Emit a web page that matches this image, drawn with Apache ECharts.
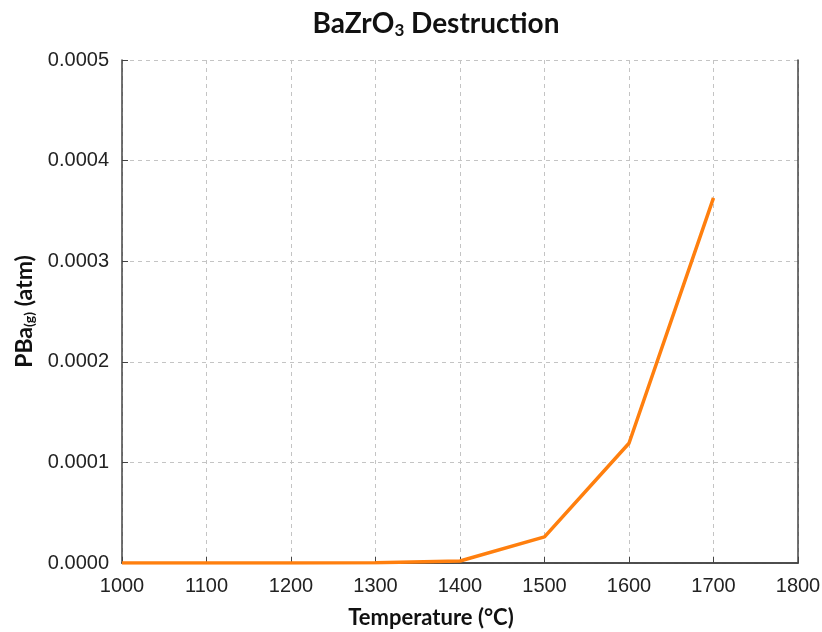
<!DOCTYPE html>
<html>
<head>
<meta charset="utf-8">
<script src="https://cdn.jsdelivr.net/npm/echarts@6/dist/echarts.min.js"></script>
<style>
  html, body { margin: 0; padding: 0; background: #fff; }
  #main { width: 822px; height: 632px; }
</style>
</head>
<body>
<div id="main"></div>
<script>
// 温度 (°C) 和 PBa(g) (atm)
var temps = [1000, 1100, 1200, 1300, 1400, 1500, 1600, 1700];
var pressure = [0, 0, 0, 0.0000002, 0.000002, 0.000026, 0.000119, 0.000363];
var xTicks = [1000, 1100, 1200, 1300, 1400, 1500, 1600, 1700, 1800];
var yTicks = ["0.0000", "0.0001", "0.0002", "0.0003", "0.0004", "0.0005"];

var chart = echarts.init(document.getElementById("main"));

var points = temps.map(function (t, i) { return [t, pressure[i]]; });

var boldFont = "Lato, 'Open Sans', sans-serif";
var tickFont = "'Liberation Sans', Arial, sans-serif";
var frame = { show: true, lineStyle: { color: "#444", width: 1.5 } };
var dashed = { show: true, lineStyle: { color: "#c4c4c4", type: [4, 4], width: 1 } };

var option = {
  animation: false,
  title: {
    text: "{m|BaZrO}{s|3}{m| Destruction}",
    left: 431,
    textAlign: "center",
    top: 3,
    textStyle: {
      rich: {
        m: { fontFamily: boldFont, fontWeight: "bold", fontSize: 28, color: "#111" },
        s: { fontFamily: boldFont, fontWeight: "bold", fontSize: 17, color: "#111", padding: [14, 0, 0, 0] }
      }
    }
  },
  grid: {
    left: 122,
    right: 24,
    top: 60,
    bottom: 69,
    outerBoundsMode: "none",
    containLabel: false
  },
  xAxis: [
    {
      type: "value",
      min: 1000,
      max: 1800,
      interval: 100,
      name: "Temperature (°C)",
      nameLocation: "middle",
      nameGap: 44,
      nameTextStyle: {
        fontFamily: boldFont, fontWeight: "bold", fontSize: 22, color: "#111",
        padding: [0, 58, 0, 0]
      },
      axisLine: frame,
      axisTick: { show: true, inside: true, length: 6, lineStyle: { color: "#444" } },
      axisLabel: {
        margin: 13,
        fontFamily: tickFont,
        fontSize: 20,
        color: "#222",
        formatter: function (v) { return xTicks.indexOf(v) >= 0 ? String(v) : ""; }
      },
      splitLine: dashed
    },
    {
      type: "value",
      position: "top",
      min: 1000,
      max: 1800,
      axisLine: frame,
      axisTick: { show: false },
      axisLabel: { show: false },
      splitLine: { show: false }
    }
  ],
  yAxis: [
    {
      type: "value",
      min: 0,
      max: 0.0005,
      interval: 0.0001,
      name: "{m|PBa}{s|(g)}{m| (atm)}",
      nameLocation: "middle",
      nameGap: 82,
      nameTextStyle: {
        rich: {
          m: { fontFamily: boldFont, fontWeight: "bold", fontSize: 23, color: "#111" },
          s: { fontFamily: boldFont, fontWeight: "bold", fontSize: 14, color: "#111", padding: [10, 0, 0, 0] }
        }
      },
      axisLine: frame,
      axisTick: { show: true, inside: true, length: 6, lineStyle: { color: "#444" } },
      axisLabel: {
        margin: 13,
        fontFamily: tickFont,
        fontSize: 20,
        color: "#222",
        formatter: function (v) { return yTicks[Math.round(v / 0.0001)]; }
      },
      splitLine: dashed
    },
    {
      type: "value",
      position: "right",
      min: 0,
      max: 0.0005,
      axisLine: frame,
      axisTick: { show: false },
      axisLabel: { show: false },
      splitLine: { show: false }
    }
  ],
  series: [
    {
      name: "PBa(g)",
      type: "line",
      data: points,
      showSymbol: false,
      lineStyle: { color: "#ff7f0e", width: 3.5 },
      itemStyle: { color: "#ff7f0e" }
    }
  ]
};

chart.setOption(option);
</script>
</body>
</html>
